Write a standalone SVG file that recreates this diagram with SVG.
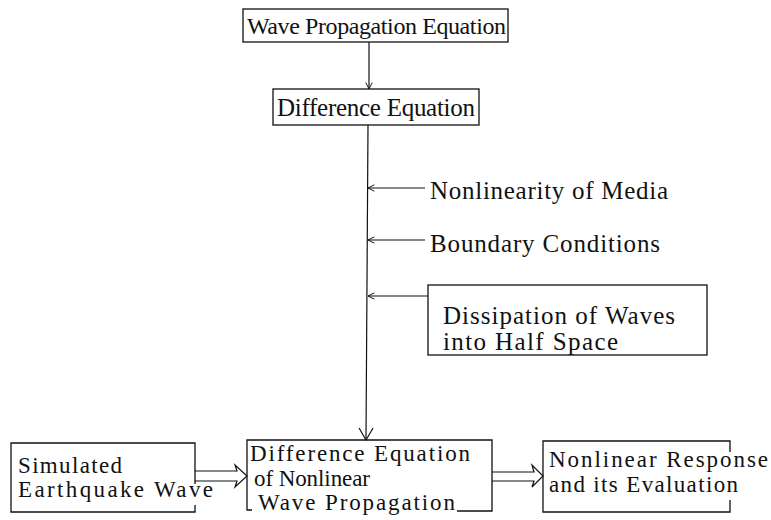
<svg xmlns="http://www.w3.org/2000/svg" width="771" height="520" viewBox="0 0 771 520">
<style>
.box{fill:none;stroke:#111;stroke-width:1.3}
.ln{fill:none;stroke:#111;stroke-width:1.2}
.t{font-family:"Liberation Serif","Times New Roman",serif;font-size:25px;fill:#111}
.s{font-size:23px}
</style>
<defs>
<marker id="ah" viewBox="0 0 10 10" refX="10" refY="5" markerWidth="8" markerHeight="8" orient="auto" markerUnits="userSpaceOnUse">
<path d="M2,1 L10,5 L2,9" fill="none" stroke="#111" stroke-width="1.2"/>
</marker>
<marker id="ahBig" viewBox="0 0 14 16" refX="13" refY="8" markerWidth="14" markerHeight="16" orient="auto" markerUnits="userSpaceOnUse">
<path d="M1,1 L13,8 L1,15" fill="none" stroke="#111" stroke-width="1.2"/>
</marker>
</defs>
<rect width="771" height="520" fill="#fff"/>

<g id="connectors">
<line class="ln" x1="369" y1="42" x2="369" y2="89" marker-end="url(#ah)"/>
<line class="ln" x1="368" y1="125" x2="366" y2="440" marker-end="url(#ahBig)"/>
<line class="ln" x1="425" y1="188" x2="368" y2="188" marker-end="url(#ah)"/>
<line class="ln" x1="425" y1="240" x2="368" y2="240" marker-end="url(#ah)"/>
<line class="ln" x1="428" y1="296" x2="368" y2="296" marker-end="url(#ah)"/>
<path class="ln" d="M195,471 H237 L235,465 L247,476 L235,487 L237,481 H195"/>
<path class="ln" d="M492,472 H534 L532,465 L543,476 L532,487 L534,481 H492"/>
</g>

<g id="node-wave-propagation-equation">
<rect class="box" x="243" y="9" width="265" height="33"/>
<text class="t" x="247" y="34" textLength="259" style="font-size:24px">Wave Propagation Equation</text>
</g>

<g id="node-difference-equation">
<rect class="box" x="273" y="89" width="206" height="36"/>
<text class="t" x="277" y="116" textLength="198">Difference Equation</text>
</g>

<g id="node-nonlinearity">
<text class="t" x="430" y="199" textLength="238">Nonlinearity of Media</text>
</g>

<g id="node-boundary">
<text class="t" x="430" y="252" textLength="230">Boundary Conditions</text>
</g>

<g id="node-dissipation">
<rect class="box" x="428" y="285" width="279" height="70"/>
<text class="t" x="443" y="324" textLength="232">Dissipation of Waves</text>
<text class="t" x="443" y="350" textLength="175">into Half Space</text>
</g>

<g id="node-simulated">
<path class="box" d="M195,484 V443 H11 V512 H195 V505"/>
<text class="t s" x="18" y="473" textLength="104">Simulated</text>
<text class="t s" x="18" y="497" textLength="195">Earthquake Wave</text>
</g>

<g id="node-difference-nonlinear">
<path class="box" d="M252,510 H247 V440 H492 V511 H457"/>
<text class="t s" x="250" y="461" textLength="220">Difference Equation</text>
<text class="t s" x="254" y="486" textLength="116">of Nonlinear</text>
<text class="t s" x="258" y="510" textLength="197">Wave Propagation</text>
</g>

<g id="node-nonlinear-response">
<path class="box" d="M730,452 V441 H543 V512 H730 V500"/>
<text class="t s" x="549" y="467" textLength="219">Nonlinear Response</text>
<text class="t s" x="549" y="492" textLength="189">and its Evaluation</text>
</g>
</svg>
